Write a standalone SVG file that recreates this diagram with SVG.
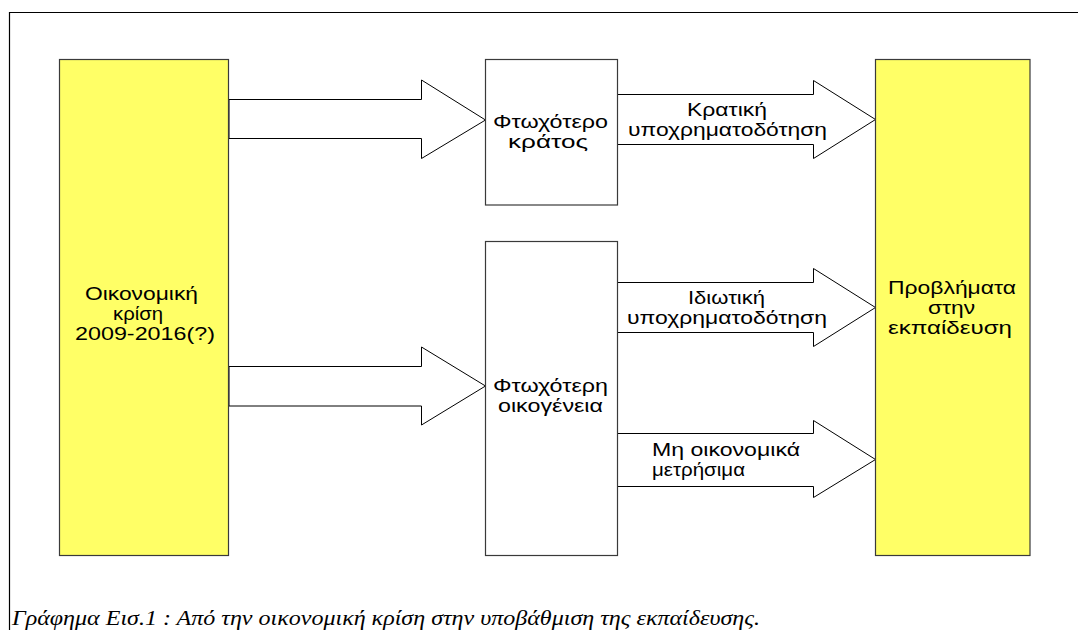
<svg xmlns="http://www.w3.org/2000/svg" width="1078" height="630" viewBox="0 0 1078 630">
<style>
.frame{fill:none;stroke:#000;stroke-width:1.2}
.ybox{fill:#FFFF66;stroke:#3a3a3a;stroke-width:1.2}
.wbox{fill:#fff;stroke:#3a3a3a;stroke-width:1.2}
.arrow{fill:#fff;stroke:#000;stroke-width:1}
.t{font-family:"Liberation Sans",Arial,sans-serif;font-size:18px;fill:#000}
.cap{font-family:"Liberation Serif","Times New Roman",serif;font-style:italic;font-size:22px;fill:#000}
</style>
<rect width="1078" height="630" fill="#fff"/>
<path class="frame" d="M9.5,630 V12.5 H1078"/>
<g id="connectors">
<polygon class="arrow" points="229,99.5 421.5,99.5 421.5,80 485.5,120 421.5,158.5 421.5,138.5 229,138.5"/>
<polygon class="arrow" points="229,366.5 421.5,366.5 421.5,347 485.5,386 421.5,425 421.5,406 229,406"/>
<polygon class="arrow" points="617.5,94.5 813.5,94.5 813.5,80.5 875.5,119.5 813.5,158.5 813.5,144.5 617.5,144.5"/>
<polygon class="arrow" points="617.5,282.5 813.5,282.5 813.5,268.5 875.5,307.5 813.5,346.5 813.5,332.5 617.5,332.5"/>
<polygon class="arrow" points="617.5,433.5 813.5,433.5 813.5,420.5 875.5,459.5 813.5,497.5 813.5,486.5 617.5,486.5"/>
</g>
<g id="crisis">
<rect class="ybox" x="59.5" y="59.5" width="169" height="496"/>
<text class="t" x="85" y="300" textLength="113" lengthAdjust="spacingAndGlyphs">Οικονομική</text>
<text class="t" x="113" y="320" textLength="50" lengthAdjust="spacingAndGlyphs">κρίση</text>
<text class="t" x="75" y="340" textLength="140" lengthAdjust="spacingAndGlyphs">2009-2016(?)</text>
</g>
<g id="state">
<rect class="wbox" x="485.5" y="59.5" width="132" height="145.5"/>
<text class="t" x="493" y="128" textLength="115" lengthAdjust="spacingAndGlyphs">Φτωχότερο</text>
<text class="t" x="508" y="148" textLength="80" lengthAdjust="spacingAndGlyphs">κράτος</text>
</g>
<g id="family">
<rect class="wbox" x="485.5" y="241.5" width="132" height="314"/>
<text class="t" x="493" y="392" textLength="115" lengthAdjust="spacingAndGlyphs">Φτωχότερη</text>
<text class="t" x="498" y="412" textLength="105" lengthAdjust="spacingAndGlyphs">οικογένεια</text>
</g>
<g id="problems">
<rect class="ybox" x="875.5" y="59.5" width="154.5" height="496"/>
<text class="t" x="888" y="294" textLength="128" lengthAdjust="spacingAndGlyphs">Προβλήματα</text>
<text class="t" x="928" y="314" textLength="47" lengthAdjust="spacingAndGlyphs">στην</text>
<text class="t" x="888" y="334" textLength="124" lengthAdjust="spacingAndGlyphs">εκπαίδευση</text>
</g>
<g id="labels">
<text class="t" x="687" y="116" textLength="80" lengthAdjust="spacingAndGlyphs">Κρατική</text>
<text class="t" x="628" y="136" textLength="199" lengthAdjust="spacingAndGlyphs">υποχρηματοδότηση</text>
<text class="t" x="688" y="304" textLength="77" lengthAdjust="spacingAndGlyphs">Ιδιωτική</text>
<text class="t" x="627" y="324" textLength="200" lengthAdjust="spacingAndGlyphs">υποχρηματοδότηση</text>
<text class="t" x="652" y="456" textLength="148" lengthAdjust="spacingAndGlyphs">Μη οικονομικά</text>
<text class="t" x="652" y="476" textLength="93" lengthAdjust="spacingAndGlyphs">μετρήσιμα</text>
</g>
<text class="cap" x="12" y="625" textLength="748" lengthAdjust="spacingAndGlyphs">Γράφημα Εισ.1 : Από την οικονομική κρίση στην υποβάθμιση της εκπαίδευσης.</text>
</svg>
